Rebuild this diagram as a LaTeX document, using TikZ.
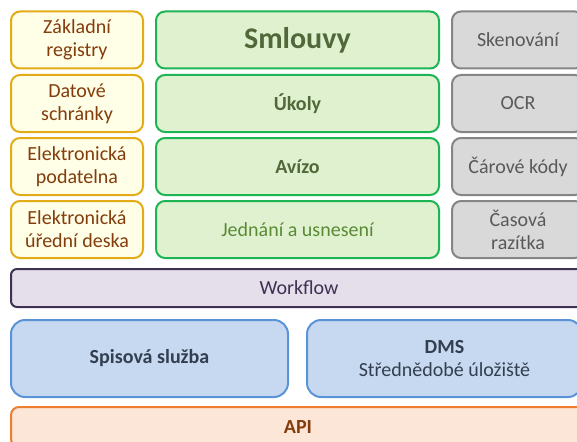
\documentclass[tikz,border=0pt]{standalone}
\usepackage{fontspec}
\setmainfont{Carlito}
\definecolor{ybord}{HTML}{E3AC17}
\definecolor{yfill}{HTML}{FFFEE6}
\definecolor{ytext}{HTML}{843C0C}
\definecolor{gbord}{HTML}{1DB454}
\definecolor{gfill}{HTML}{E0F1D0}
\definecolor{gtext}{HTML}{51683A}
\definecolor{gtextl}{HTML}{5A8A35}
\definecolor{sbord}{HTML}{858585}
\definecolor{sfill}{HTML}{D9D9D9}
\definecolor{stext}{HTML}{595959}
\definecolor{pbord}{HTML}{3F3151}
\definecolor{pfill}{HTML}{E5DFEC}
\definecolor{ptext}{HTML}{3F3151}
\definecolor{bbord}{HTML}{5B93D8}
\definecolor{bfill}{HTML}{C6D9F0}
\definecolor{btext}{HTML}{333F50}
\definecolor{obord}{HTML}{ED7D31}
\definecolor{ofill}{HTML}{FBE6D8}
\definecolor{otext}{HTML}{843C0C}
\tikzset{
  mybox/.style={draw, line width=2pt, rounded corners=9pt, align=center, inner sep=0pt,
    font=\fontsize{20}{23}\selectfont},
  yellowbox/.style={mybox, draw=ybord, fill=yfill, text=ytext, minimum width=132pt, minimum height=57pt},
  greenbox/.style={mybox, draw=gbord, fill=gfill, text=gtext, minimum width=283pt, minimum height=57pt},
  graybox/.style={mybox, draw=sbord, fill=sfill, text=stext, minimum width=132pt, minimum height=57pt},
  purplebox/.style={mybox, draw=pbord, fill=pfill, text=ptext, rounded corners=6pt, minimum width=576pt, minimum height=38pt},
  bluebox/.style={mybox, draw=bbord, fill=bfill, text=btext, rounded corners=14pt, minimum height=77pt},
  orangebox/.style={mybox, draw=obord, fill=ofill, text=otext, rounded corners=8pt, minimum width=574pt, minimum height=40pt},
}
\begin{document}
\begin{tikzpicture}[x=1pt,y=-1pt]
\useasboundingbox (0,0) rectangle (577,441);
\clip (0,0) rectangle (577,441);
% left column
\node[yellowbox] (zr) at (77,40) {Základní\\registry};
\node[yellowbox] (ds) at (77,103.5) {Datové\\schránky};
\node[yellowbox] (ep) at (77,166.5) {Elektronická\\podatelna};
\node[yellowbox] (eu) at (77,229.5) {Elektronická\\úřední deska};
% green column
\node[greenbox, font=\fontsize{30}{34}\selectfont\bfseries] (sm) at (297.5,40) {Smlouvy};
\node[greenbox, font=\fontsize{20}{23}\selectfont\bfseries] (uk) at (297.5,103.5) {Úkoly};
\node[greenbox, font=\fontsize{20}{23}\selectfont\bfseries] (av) at (297.5,166.5) {Avízo};
\node[greenbox, text=gtextl] (ju) at (297.5,229.5) {Jednání a usnesení};
% gray column
\node[graybox] (sk) at (518,40) {Skenování};
\node[graybox] (ocr) at (518,103.5) {OCR};
\node[graybox] (ck) at (518,166.5) {Čárové kódy};
\node[graybox] (cr) at (518,229.5) {Časová\\razítka};
% layers
\node[purplebox] (wf) at (299,288) {Workflow};
\node[bluebox, minimum width=277pt, font=\fontsize{20}{23}\selectfont\bfseries] (ss) at (149.5,358.5) {Spisová služba};
\node[bluebox, minimum width=275pt] (dms) at (444.5,358.5) {\textbf{DMS}\\Střednědobé úložiště};
\node[orangebox, font=\fontsize{20}{23}\selectfont\bfseries] (api) at (298,427) {API};
\end{tikzpicture}
\end{document}
